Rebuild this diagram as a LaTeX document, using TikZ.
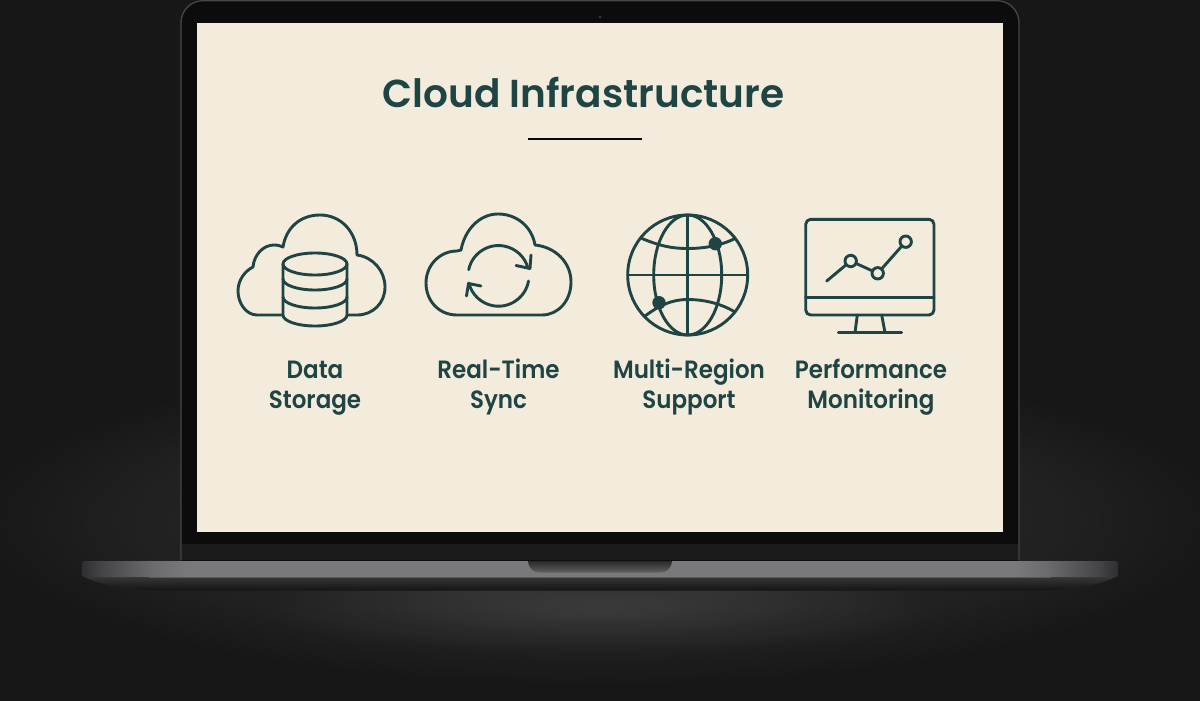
\documentclass[tikz,border=0pt]{standalone}
\usepackage{fontspec}
\usetikzlibrary{calc,fadings}
\newfontfamily\titlefont{Poppins SemiBold}
\newfontfamily\labelfont[FakeStretch=0.92]{Poppins SemiBold}
\definecolor{inkgreen}{HTML}{1F4444}
\definecolor{paper}{HTML}{F3ECDC}
\definecolor{bezel}{HTML}{0B0C0B}
\definecolor{chin}{HTML}{1B1B1B}
\definecolor{rim}{HTML}{47474B}
\definecolor{backdrop}{HTML}{171717}
\def\capline#1{\rule[-7pt]{0pt}{27pt}#1}
\pgfdeclarehorizontalshading{deckshade}{100bp}{
	rgb(0bp)=(.18,.18,.2); rgb(25bp)=(.18,.18,.2);
	rgb(26bp)=(.27,.27,.29); rgb(27bp)=(.33,.33,.35);
	rgb(28.5bp)=(.42,.42,.44); rgb(30bp)=(.47,.47,.49);
	rgb(70bp)=(.47,.47,.49); rgb(71.5bp)=(.42,.42,.44);
	rgb(73bp)=(.33,.33,.35); rgb(74bp)=(.27,.27,.29);
	rgb(75bp)=(.18,.18,.2); rgb(100bp)=(.18,.18,.2)}
\tikzfading[name=wideglow, inner color=transparent!85, outer color=transparent!100]
\tikzfading[name=lowglow, inner color=transparent!91, outer color=transparent!100]
\tikzset{
	icon/.style={line width=2.9pt, draw=inkgreen, line join=round, line cap=round},
	caption/.style={font=\labelfont\fontsize{25}{30}\selectfont, text=inkgreen, align=center, inner sep=0pt}
}

\begin{document}
\begin{tikzpicture}[x=1pt, y=-1pt]
		%%%%% START %%%%%
		\useasboundingbox (0, 0) rectangle (1200, 701);
		
		\fill[backdrop] (0, 0) rectangle (1200, 701);
		\begin{scope}
			\clip (0, 0) rectangle (1200, 701);
			\fill[white, path fading=wideglow] (600, 520) ellipse (640 and 170);
			\fill[white, path fading=lowglow] (600, 610) ellipse (350 and 45);
		\end{scope}
		
		% lid
		\draw[fill=bezel, draw=rim, line width=1.3pt, rounded corners=22pt] (181, 560) -- (181, 0.7) -- (1019, 0.7) -- (1019, 560);
		\fill[chin] (182, 544) rectangle (1018, 560);
		\fill[black!78] (600, 17) circle (1.5);
		\fill[paper] (197, 23) rectangle (1003, 531.5);
		
		% base
		\shade[top color=black!78, bottom color=black!92] (83, 576) .. controls (100, 586) and (130, 590.5) .. (165, 590.5) -- (1035, 590.5) .. controls (1070, 590.5) and (1100, 586) .. (1117, 576) -- cycle;
		\shade[shading=deckshade, rounded corners=2pt] (82, 561) rectangle (1118, 577);
		\draw[line width=0.8pt, color=black!65] (150, 577) -- (1050, 577);
		\shade[top color=black!84, bottom color=black!62] (528, 561) .. controls (529, 569) and (533, 572.5) .. (541, 572.5) -- (659, 572.5) .. controls (667, 572.5) and (671, 569) .. (672, 561) -- cycle;
		\fill[black!95] (182, 560) rectangle (1018, 561);
		
		% title
		\node[font=\titlefont\fontsize{39}{40}\selectfont, text=inkgreen, anchor=base, inner sep=0pt] (title) at (583.5, 107) {Cloud Infrastructure};
		\draw[line width=2pt, color=black!85!inkgreen] (528, 139) -- (642, 139);
		
		% storage cloud
		\draw[icon] (283, 315) -- (257, 315) .. controls (246, 315) and (238, 303) .. (238, 291) .. controls (238, 280) and (245, 271) .. (253, 267) .. controls (254, 255) and (263, 245) .. (274, 245) .. controls (278, 245) and (281, 246) .. (283, 247) .. controls (286, 228) and (300, 215) .. (320, 215) .. controls (341, 215) and (357, 232) .. (357, 255) .. controls (373, 257) and (385, 271) .. (385, 287) .. controls (385, 303) and (373, 315) .. (357, 315) -- (347, 315);
		\draw[icon, fill=paper] (283, 264) -- (283, 315) arc (180:0:32 and 11) -- (347, 264);
		\draw[icon] (315, 264) ellipse (32 and 11);
		\draw[icon] (283, 279) arc (180:0:32 and 11);
		\draw[icon] (283, 297) arc (180:0:32 and 11);
		
		% sync cloud
		\draw[icon] (457, 315) .. controls (439, 315) and (426, 301) .. (426, 283) .. controls (426, 265) and (440, 251) .. (457, 251) -- (461, 250) .. controls (465, 229) and (480, 214) .. (498, 214) .. controls (517, 214) and (532, 227) .. (535, 245) .. controls (555, 247) and (571, 262) .. (571, 282) .. controls (571, 301) and (558, 315) .. (542, 315) -- cycle;
		\draw[icon] (468.7, 269.7) arc (-168:-15:30.5);
		\draw[icon] (516, 265.5) -- (530, 268.5) -- (531, 255);
		\draw[icon] (528.5, 281) arc (10:166:30.5);
		\draw[icon] (481, 286) -- (468.5, 283.5) -- (466.5, 296);
		
		% globe
		\draw[icon] (687.7, 275) circle (60);
		\draw[icon] (687.7, 275) ellipse (34 and 60);
		\draw[icon] (687.7, 215) -- (687.7, 335);
		\draw[icon] (627.7, 275) -- (747.7, 275);
		\draw[icon] (642, 238.5) .. controls (660, 246) and (672, 248.5) .. (687.7, 248.5) .. controls (703, 248.5) and (720, 246) .. (735, 238.5);
		\draw[icon] (645, 316) .. controls (660, 305) and (672, 299.5) .. (687.7, 299.5) .. controls (703, 299.5) and (720, 303) .. (735, 312);
		\fill[inkgreen] (715.3, 243.7) circle (6.7);
		\fill[inkgreen] (659, 302.7) circle (6.7);
		
		% monitor
		\draw[icon, rounded corners=5pt] (805.7, 219.3) rectangle (934, 315);
		\draw[icon] (805.7, 297.3) -- (934, 297.3);
		\draw[icon] (857.3, 315) -- (855, 332.5);
		\draw[icon] (881.7, 315) -- (885, 332.5);
		\draw[icon] (838.3, 332.5) -- (901.7, 332.5);
		\draw[icon] (826.7, 281) -- (850.7, 261) -- (877.7, 273.3) -- (905.7, 241.7);
		\draw[icon, fill=paper] (850.7, 261) circle (5.7);
		\draw[icon, fill=paper] (877.7, 273.3) circle (5.7);
		\draw[icon, fill=paper] (905.7, 241.7) circle (5.7);
		
		% captions
		\node[caption] (storage) at (315, 386.5) {\capline{Data}\\\capline{Storage}};
		\node[caption] (sync) at (498.5, 386.5) {\capline{Real-Time}\\\capline{Sync}};
		\node[caption] (region) at (689, 386.5) {\capline{Multi-Region}\\\capline{Support}};
		\node[caption] (monitoring) at (871, 386.5) {\capline{Performance}\\\capline{Monitoring}};
		
		%%%%% END %%%%%
	\end{tikzpicture}
\end{document}
